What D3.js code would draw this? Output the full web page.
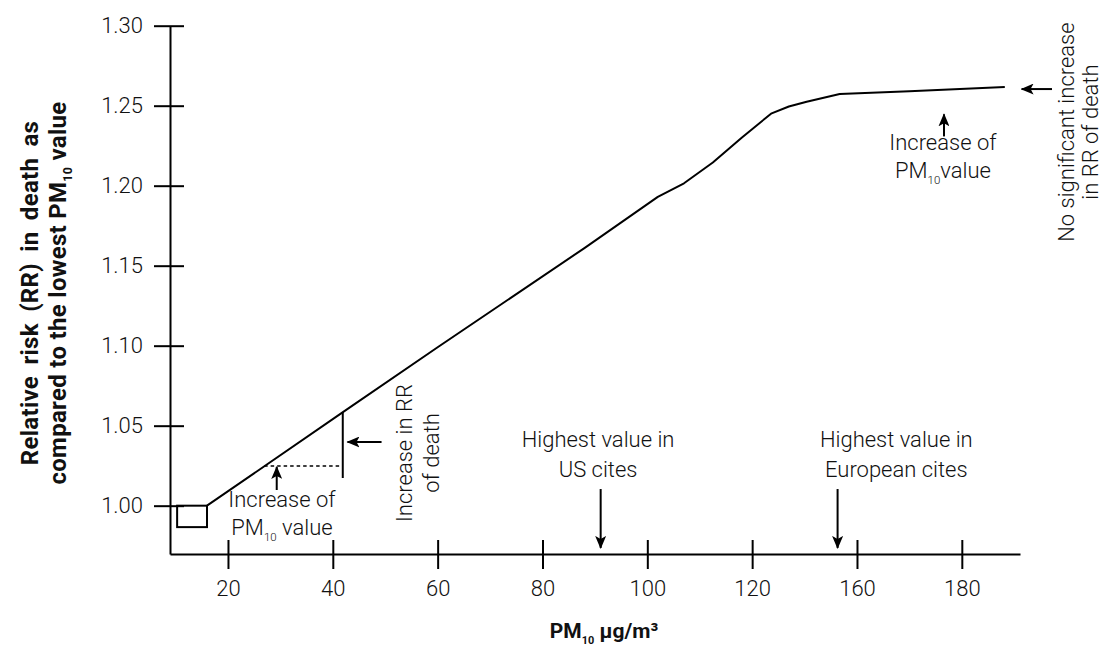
<!DOCTYPE html>
<html>
<head>
<meta charset="utf-8">
<script src="https://cdn.jsdelivr.net/npm/d3@7"></script>
<style>
  html, body { margin: 0; padding: 0; background: #fff; }
  svg { display: block; }
  text { font-family: Roboto, "Open Sans", sans-serif; fill: #111; }
</style>
</head>
<body>
<script>
// ---------- data ----------
const curveX = [16, 42, 60, 88, 102, 107, 112.5, 118, 123.6, 127, 130.4, 136.7, 150, 168.2];
const curveY = [1.000, 1.0586, 1.099, 1.161, 1.193, 1.2015, 1.2145, 1.230, 1.245, 1.2495, 1.2525, 1.2573, 1.259, 1.2617];

const xTickValues = [20, 40, 60, 80, 100, 120, 140, 160];
const xTickLabels = ["20", "40", "60", "80", "100", "120", "160", "180"];
const yTickValues = [1.00, 1.05, 1.10, 1.15, 1.20, 1.25, 1.30];
const yTickLabels = ["1.00", "1.05", "1.10", "1.15", "1.20", "1.25", "1.30"];

// lowest-value box
const boxX = [10.3, 16.0];
const boxY = [0.9866, 1.000];

// increase of PM10 (dashed) and increase in RR (vertical)
const dashX = [26.9, 41.9];
const dashY = 1.0248;
const vertX = 41.9;
const vertY = [1.0173, 1.0586];

// arrows: [x1, y1, x2(tip), y2(tip)]
const arrows = [
  [29.3, 1.0098, 29.3, 1.0242],
  [49.3, 1.0398, 42.8, 1.0398],
  [91.1, 1.0104, 91.1, 0.9736],
  [136.3, 1.0104, 136.3, 0.9736],
  [156.6, 1.2308, 156.6, 1.2446],
  [177.2, 1.2604, 171.4, 1.2604]
];

// ---------- layout ----------
const W = 1103, H = 647;
const xMin = 8.94, xMax = 171.1, yMin = 0.9698, yMax = 1.30;

const svg = d3.select("body").append("svg").attr("width", W).attr("height", H);

const x = d3.scaleLinear().domain([xMin, xMax]).range([170, 1020]);
const y = d3.scaleLinear().domain([yMin, yMax]).range([554, 25.7]);

svg.append("defs").append("marker")
  .attr("id", "ah").attr("viewBox", "0 0 13 11")
  .attr("refX", 12).attr("refY", 5.5)
  .attr("markerWidth", 13).attr("markerHeight", 11)
  .attr("markerUnits", "userSpaceOnUse")
  .attr("orient", "auto")
  .append("path").attr("d", "M0,0 L13,5.5 L0,11 L3,5.5 Z").attr("fill", "#000");

// axes
const yAxis = d3.axisLeft(y).tickValues(yTickValues)
  .tickFormat((d, i) => yTickLabels[i]).tickSize(16).tickSizeOuter(0).tickPadding(11);
const gy = svg.append("g").attr("transform", `translate(${x(xMin)},0)`).call(yAxis);
gy.selectAll(".tick line").attr("x1", 14);

const xAxis = d3.axisBottom(x).tickValues(xTickValues)
  .tickFormat((d, i) => xTickLabels[i]).tickSize(15).tickSizeOuter(0).tickPadding(11);
const gx = svg.append("g").attr("transform", `translate(0,${y(yMin)})`).call(xAxis);
gx.selectAll(".tick line").attr("y1", -14);

[gx, gy].forEach(g => {
  g.select(".domain").attr("stroke", "#000").attr("stroke-width", 2);
  g.selectAll(".tick line").attr("stroke", "#000").attr("stroke-width", 2);
  g.selectAll(".tick text").attr("font-size", 22).attr("font-weight", 300)
    .attr("font-family", "Roboto, sans-serif").attr("fill", "#111");
});

// box
svg.append("rect")
  .attr("x", x(boxX[0])).attr("y", y(boxY[1]))
  .attr("width", x(boxX[1]) - x(boxX[0])).attr("height", y(boxY[0]) - y(boxY[1]))
  .attr("fill", "none").attr("stroke", "#000").attr("stroke-width", 2);

// curve
const pts = curveX.map((v, i) => [v, curveY[i]]);
svg.append("path").datum(pts)
  .attr("d", d3.line().x(d => x(d[0])).y(d => y(d[1])))
  .attr("fill", "none").attr("stroke", "#000").attr("stroke-width", 2).attr("stroke-linejoin", "round");

// dashed + vertical
svg.append("line").attr("x1", x(dashX[0])).attr("x2", x(dashX[1]))
  .attr("y1", y(dashY)).attr("y2", y(dashY))
  .attr("stroke", "#000").attr("stroke-width", 1.6).attr("stroke-dasharray", "3.5,3");
svg.append("line").attr("x1", x(vertX)).attr("x2", x(vertX))
  .attr("y1", y(vertY[0])).attr("y2", y(vertY[1]))
  .attr("stroke", "#000").attr("stroke-width", 2);

// arrows
svg.selectAll(".arr").data(arrows).enter().append("line")
  .attr("x1", d => x(d[0])).attr("y1", d => y(d[1]))
  .attr("x2", d => x(d[2])).attr("y2", d => y(d[3]))
  .attr("stroke", "#000").attr("stroke-width", 2).attr("marker-end", "url(#ah)");

// text helper
function label(px, py, lines, opts = {}) {
  const size = opts.size || 22;
  const g = svg.append("g").attr("transform", `translate(${px},${py})` + (opts.rot ? ` rotate(${opts.rot})` : ""));
  lines.forEach((ln, i) => {
    const t = g.append("text").attr("x", 0).attr("y", i * (opts.lh || 28))
      .attr("text-anchor", opts.anchor || "middle")
      .attr("font-size", size)
      .attr("font-weight", opts.weight || 300);
    if (opts.ls) t.attr("letter-spacing", opts.ls);
    if (opts.ws && opts.ws[i]) t.attr("word-spacing", opts.ws[i]);
    let pendingDy = 0;
    ln.forEach(seg => {
      if (seg.sub) {
        t.append("tspan").attr("font-size", size * 0.52).attr("dy", 6).text(seg.sub);
        pendingDy = -6;
      } else {
        const ts = t.append("tspan").text(seg.t);
        if (pendingDy) { ts.attr("dy", pendingDy); pendingDy = 0; }
      }
    });
  });
  return g;
}

// annotations (anchored in data space)
label(x(30.3), y(0.9992), [[{t: "Increase of"}], [{t: "PM"}, {sub: "10"}, {t: " value"}]], {lh: 28});
label(x(55.1), y(1.0329), [[{t: "Increase in RR"}], [{t: "of death"}]], {rot: -90, lh: 27});
label(x(90.6), y(1.0367), [[{t: "Highest value in"}], [{t: "US cites"}]], {lh: 30});
label(x(147.5), y(1.0367), [[{t: "Highest value in"}], [{t: "European cites"}]], {lh: 30});
label(x(156.4), y(1.2223), [[{t: "Increase of"}], [{t: "PM"}, {sub: "10"}, {t: "value"}]], {lh: 28});
label(x(181.4), y(1.2335), [[{t: "No significant increase"}], [{t: "in RR of death"}]], {rot: -90, lh: 24});

// axis titles
label(x(xMin) + 434, 638, [[{t: "PM"}, {sub: "10"}, {t: " μg/m³"}]], {weight: 700, size: 21});
label(38, 293, [[{t: "Relative risk (RR) in death as"}], [{t: "compared to the lowest PM"}, {sub: "10"}, {t: "  value"}]],
  {rot: -90, weight: 700, size: 24, lh: 28, ls: 0.3, ws: [5, 0]});
</script>
</body>
</html>
